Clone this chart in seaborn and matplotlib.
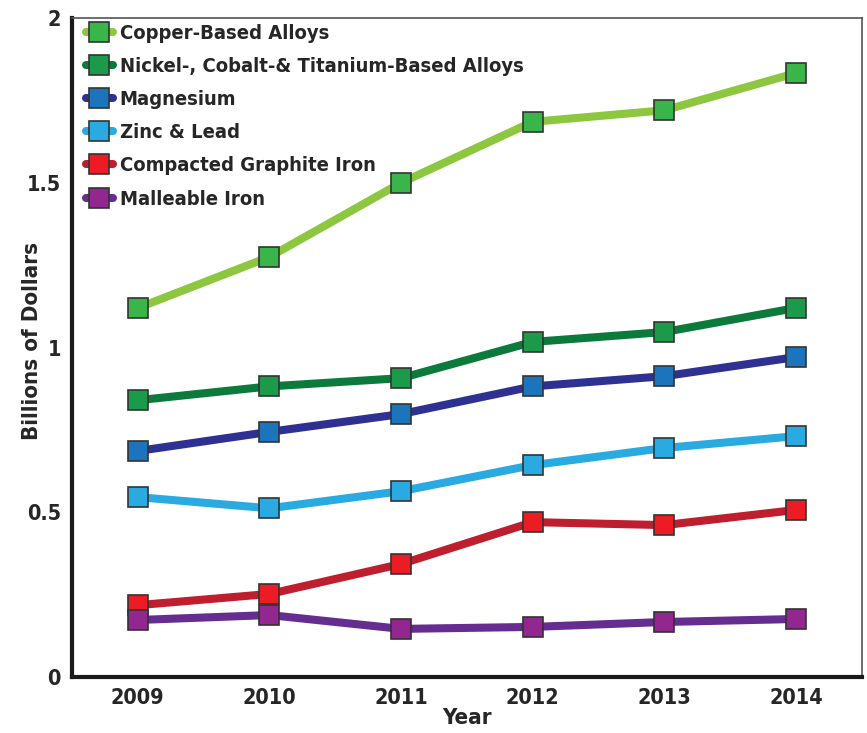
import matplotlib
matplotlib.use("Agg")
import matplotlib.pyplot as plt
import seaborn as sns
import pandas as pd

# --- data ---
years = [2009, 2010, 2011, 2012, 2013, 2014]
series_names = [
    "Copper-Based Alloys",
    "Nickel-, Cobalt-& Titanium-Based Alloys",
    "Magnesium",
    "Zinc & Lead",
    "Compacted Graphite Iron",
    "Malleable Iron",
]
copper = [1.12, 1.275, 1.50, 1.685, 1.72, 1.833]
nickel = [0.84, 0.882, 0.907, 1.017, 1.047, 1.12]
magnesium = [0.686, 0.744, 0.798, 0.882, 0.913, 0.971]
zinc_lead = [0.546, 0.512, 0.564, 0.643, 0.695, 0.731]
cgi = [0.218, 0.252, 0.343, 0.470, 0.461, 0.507]
malleable = [0.173, 0.188, 0.146, 0.152, 0.167, 0.176]
values = [copper, nickel, magnesium, zinc_lead, cgi, malleable]

line_colors = ["#8DC63F", "#0B7A3B", "#2E3192", "#29ABE2", "#BE1E2D", "#662D91"]
marker_colors = ["#39B54A", "#1B9A4A", "#1C75BC", "#29ABE2", "#ED1C24", "#92278F"]

sns.set_style("white")
# condensed bold face to get close to the narrow sans of the original
plt.rcParams['font.family'] = ['DejaVu Sans']
plt.rcParams['font.stretch'] = 'condensed'
plt.rcParams['font.weight'] = 'bold'

fig = plt.figure(figsize=(8.67, 7.33), dpi=100)
ax = fig.add_axes([0.083, 0.0764, 0.911, 0.899])

for name, vals, lc, mc in zip(series_names, values, line_colors, marker_colors):
    df = pd.DataFrame({"Year": years, "Value": vals})
    sns.lineplot(data=df, x="Year", y="Value", ax=ax, color=lc, linewidth=5.8,
                 marker="s", markersize=15, markerfacecolor=mc,
                 markeredgecolor="#333333", markeredgewidth=1.2, label=name)

ax.set_xlim(2008.5, 2014.5)
ax.set_ylim(0, 2)
ax.set_xticks(years)
ax.set_xticklabels([str(y) for y in years], fontsize=15.5, fontweight='bold')
ax.set_xticks([y + 0.5 for y in years[:-1]], minor=True)
ax.tick_params(axis='x', which='major', length=0, pad=8)
ax.tick_params(axis='x', which='minor', direction='in', length=12, width=2, color='#222222')
ax.set_yticks([0, 0.5, 1, 1.5, 2])
ax.set_yticklabels(["0", "0.5", "1", "1.5", "2"], fontsize=15.5, fontweight='bold')
ax.tick_params(axis='y', which='major', direction='out', length=6, width=2, color='#222222', pad=2)

for side in ["left", "bottom"]:
    ax.spines[side].set_color("#1a1a1a")
    ax.spines[side].set_linewidth(3)
for side in ["top", "right"]:
    ax.spines[side].set_color("#555555")
    ax.spines[side].set_linewidth(1.2)

ax.set_xlabel("Year", fontsize=16, fontweight='bold', labelpad=0)
ax.set_ylabel("Billions of Dollars", fontsize=16, fontweight='bold')
ax.yaxis.set_label_coords(-0.038, 0.51)

leg = ax.legend(loc="upper left", frameon=False, fontsize=14.5, handlelength=1.3,
                handletextpad=0.35, labelspacing=0.7, borderaxespad=0.0,
                bbox_to_anchor=(0.008, 1.003))
for t in leg.get_texts():
    t.set_fontweight('bold')

fig.savefig("out.png", dpi=100)
